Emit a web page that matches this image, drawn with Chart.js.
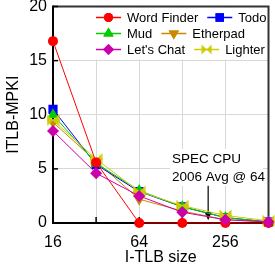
<!DOCTYPE html>
<html><head><meta charset="utf-8">
<script src="https://cdn.jsdelivr.net/npm/chart.js@4.4.0/dist/chart.umd.min.js"></script>
<style>html,body{margin:0;padding:0;background:#fff;} #wrap{width:275px;height:271px;position:relative;}</style>
</head><body><div id="wrap"><canvas id="c"></canvas></div>
<script>
// ---- data ----
const categories = ['16','32','64','128','256','512'];
const xTickLabels = ['16','64','256'];
const yTicks = [0,5,10,15,20];
const seriesNames = ['Word Finder','Todo','Mud','Etherpad',"Let's Chat",'Lighter'];
const wordFinder = [16.8,5.6,0,0,0,0];
const todo = [10.5,5.4,2.9,1.5,0.5,0.1];
const mud = [10.0,5.5,3.0,1.5,0.5,0.1];
const etherpad = [9.3,5.7,2.2,1.1,0.3,0.1];
const letsChat = [8.5,4.6,2.5,1.0,0.3,0.1];
const lighter = [9.5,5.9,2.9,1.6,0.7,0.2];
const annotationLines = ['SPEC CPU','2006 Avg @ 64'];
const arrowAt = 3.6;        // position along the category axis
const arrowFromY = 3.45;    // value where arrow starts
const arrowToY = 0.25;      // value where arrow points

// ---- styles ----
const FONT = "'Liberation Sans', Arial, Helvetica, sans-serif";
function bowtie(color, s) {
  const c = document.createElement('canvas'); c.width = s; c.height = s;
  const g = c.getContext('2d'); g.fillStyle = color; g.strokeStyle = color; g.lineWidth = 1.2;
  g.beginPath(); g.moveTo(0.5, 0.5); g.lineTo(s/2, s/2); g.lineTo(0.5, s-0.5); g.closePath(); g.fill();
  g.beginPath(); g.moveTo(s-0.5, 0.5); g.lineTo(s/2, s/2); g.lineTo(s-0.5, s-0.5); g.closePath(); g.fill();
  g.beginPath(); g.moveTo(0, s/2); g.lineTo(s, s/2); g.stroke();
  return c;
}
const styles = [
  {color:'#ff0000', pointStyle:'circle', radius:5, rotation:0, order:1},
  {color:'#0000ff', pointStyle:'rect', radius:6.5, rotation:0, order:4},
  {color:'#00cc00', pointStyle:'triangle', radius:6.5, rotation:0, order:3},
  {color:'#cc8800', pointStyle:'triangle', radius:6.5, rotation:180, order:5},
  {color:'#cc00aa', pointStyle:'rectRot', radius:6, rotation:0, order:0},
  {color:'#cccc00', pointStyle:'bowtie', radius:6.5, rotation:0, order:2}
];
const seriesData = [wordFinder, todo, mud, etherpad, letsChat, lighter];
const bowtieBig = bowtie('#cccc00', 13);
const bowtieSmall = bowtie('#cccc00', 11);

const datasets = seriesNames.map((name, i) => {
  const s = styles[i];
  return {
    label: name,
    data: seriesData[i],
    borderColor: s.color,
    backgroundColor: s.color,
    borderWidth: 1,
    pointStyle: s.pointStyle === 'bowtie' ? bowtieBig : s.pointStyle,
    pointRadius: s.radius,
    pointHoverRadius: s.radius,
    pointRotation: s.rotation,
    pointBorderWidth: 0,
    pointBackgroundColor: s.color,
    order: s.order,
    clip: false,
    tension: 0
  };
});

function drawMarker(ctx, idx, x, y) {
  const s = styles[idx];
  if (s.pointStyle === 'bowtie') { ctx.drawImage(bowtieSmall, x - 5.5, y - 5.5); return; }
  Chart.helpers.drawPoint(ctx, {pointStyle: s.pointStyle, radius: s.radius - 0.5, rotation: s.rotation, borderWidth: 0}, x, y);
  ctx.fill();
}

const decorPlugin = {
  id: 'decor',
  beforeDatasetsDraw(chart) {
    const {ctx, chartArea: a, scales} = chart;
    const x = scales.x, y = scales.y;
    ctx.save();
    // legend background
    ctx.fillStyle = '#fff';
    ctx.fillRect(90, a.top + 1, a.right - 90, 52);
    // annotation text background
    ctx.fillRect(170, 149, 93, 37);
    // frame
    ctx.lineWidth = 2;
    ctx.strokeStyle = '#333';
    ctx.beginPath(); ctx.moveTo(a.left, a.top); ctx.lineTo(a.right, a.top); ctx.lineTo(a.right, a.bottom); ctx.stroke();
    ctx.strokeStyle = '#000';
    ctx.beginPath(); ctx.moveTo(a.left, a.top - 1); ctx.lineTo(a.left, a.bottom); ctx.lineTo(a.right, a.bottom); ctx.stroke();
    // inward ticks
    ctx.lineWidth = 1.5;
    yTicks.forEach(v => { const py = y.getPixelForValue(v); ctx.beginPath(); ctx.moveTo(a.left, py); ctx.lineTo(a.left + 5, py); ctx.stroke(); });
    categories.forEach((c, i) => { const px = x.getPixelForValue(i); ctx.beginPath(); ctx.moveTo(px, a.bottom); ctx.lineTo(px, a.bottom - 6); ctx.stroke(); });
    // annotation text
    ctx.fillStyle = '#000';
    ctx.font = '13.5px ' + FONT;
    ctx.textAlign = 'left'; ctx.textBaseline = 'middle';
    ctx.fillText(annotationLines[0], 172, 159);
    ctx.fillText(annotationLines[1], 172, 177);
    // arrow
    const ax = x.getPixelForValue(arrowAt);
    const ay0 = y.getPixelForValue(arrowFromY), ay1 = y.getPixelForValue(arrowToY);
    ctx.lineWidth = 1.2;
    ctx.beginPath(); ctx.moveTo(ax, ay0); ctx.lineTo(ax, ay1 - 6); ctx.stroke();
    ctx.beginPath(); ctx.moveTo(ax - 3.5, ay1 - 8); ctx.lineTo(ax + 3.5, ay1 - 8); ctx.lineTo(ax, ay1); ctx.closePath(); ctx.fill();
    ctx.restore();
  },
  afterDatasetsDraw(chart) {
    const {ctx} = chart;
    ctx.save();
    ctx.font = '13px ' + FONT;
    ctx.textAlign = 'left'; ctx.textBaseline = 'middle';
    const rows = [17.5, 33.5, 49.5];
    for (let r = 0; r < 3; r++) {
      let cx = 96;
      for (let k = 0; k < 2; k++) {
        const i = r * 2 + k;
        const s = styles[i];
        const yy = rows[r];
        ctx.strokeStyle = s.color; ctx.fillStyle = s.color; ctx.lineWidth = 1.5;
        ctx.beginPath(); ctx.moveTo(cx, yy); ctx.lineTo(cx + 25, yy); ctx.stroke();
        drawMarker(ctx, i, cx + 12.5, yy);
        ctx.fillStyle = '#000';
        ctx.fillText(seriesNames[i], cx + 31, yy + 0.5);
        cx += 31 + ctx.measureText(seriesNames[i]).width + 9;
      }
    }
    ctx.restore();
  }
};

new Chart(document.getElementById('c'), {
  type: 'line',
  data: {labels: categories, datasets},
  options: {
    responsive: true, maintainAspectRatio: false, animation: false, events: [],
    layout: {padding: {top: 5, right: 5, left: 0, bottom: 0}},
    plugins: {legend: {display: false}, tooltip: {enabled: false}},
    scales: {
      x: {
        type: 'category',
        grid: {color: '#d8d8d8', lineWidth: 1, drawTicks: false},
        border: {display: false},
        ticks: {
          autoSkip: false, maxRotation: 0, padding: 10, color: '#000',
          font: {family: FONT, size: 16},
          callback(v) { const l = categories[v]; return xTickLabels.includes(l) ? l : ''; }
        },
        title: {display: true, text: 'I-TLB size', color: '#000', font: {family: FONT, size: 16}, padding: {top: 4, bottom: 4}},
        afterFit(s) { s.height = 48; s.paddingLeft = 0; s.paddingRight = 0; }
      },
      y: {
        min: 0, max: 20,
        grid: {color: '#d8d8d8', lineWidth: 1, drawTicks: false},
        border: {display: false},
        ticks: {stepSize: 5, padding: 6, color: '#000', font: {family: FONT, size: 16}},
        title: {display: true, text: 'ITLB-MPKI', color: '#000', font: {family: FONT, size: 16}, padding: {top: 4, bottom: 4}},
        afterFit(s) { s.width = 53; s.paddingTop = 0; s.paddingBottom = 0; }
      }
    }
  },
  plugins: [decorPlugin]
});
</script>
</body></html>
